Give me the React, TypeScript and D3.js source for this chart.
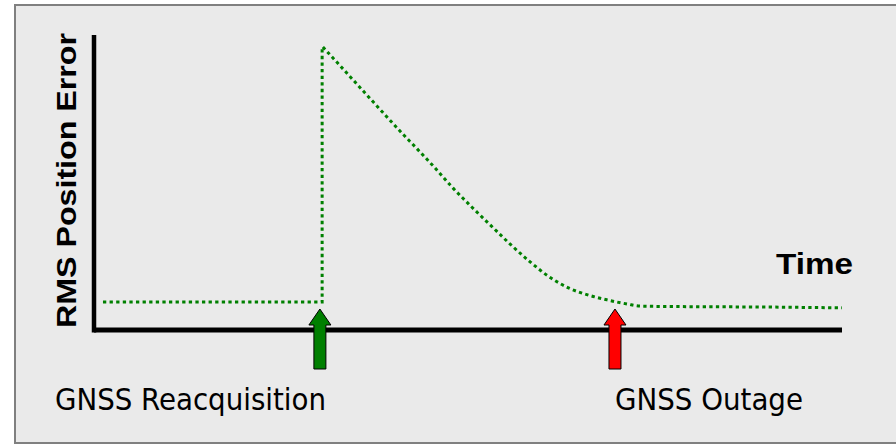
import React from "react";
import * as d3 from "d3";

// Time (arbitrary units 0..100) and RMS error (arbitrary units 0..100)
const baseTime = [1.2, 30.5, 30.5];
const baseError = [9.5, 9.5, 95.9];

const decayTime = [30.6, 31.7, 36.5, 41.3, 43.2, 45.6, 48.0, 50.5, 53.1, 55.6, 58.3, 61.1, 63.5, 66.0, 68.6, 71.3, 73.0, 80.0, 89.0, 100];
const decayError = [95.9, 92.9, 79.6, 66.4, 61.4, 54.9, 48.1, 41.7, 35.3, 29.2, 23.1, 17.6, 14.2, 11.9, 10.2, 8.8, 8.1, 7.9, 7.8, 7.5];

const eventTimes = [30.2, 69.65];
const eventColors = ["#007f00", "#ff0000"];
const eventLabels = ["GNSS Reacquisition", "GNSS Outage"];
const yAxisLabel = "RMS Position Error";
const xAxisLabel = "Time";

const W = 896;
const H = 445;

const boldFont = { fontFamily: "Liberation Sans, Arial, Helvetica, sans-serif", fontWeight: 700 } as const;
const labelFont = { fontFamily: "DejaVu Sans Condensed, DejaVu Sans, sans-serif" } as const;

export default function App() {
  const x = d3.scaleLinear().domain([0, 100]).range([94, 842]);
  const y = d3.scaleLinear().domain([0, 100]).range([330, 35]);

  const basePts: [number, number][] = baseTime.map((t, i) => [x(t), y(baseError[i])]);
  const decayPts: [number, number][] = decayTime.map((t, i) => [x(t), y(decayError[i])]);

  const linear = d3.line().curve(d3.curveLinear);
  const smooth = d3.line().curve(d3.curveMonotoneX);

  const axisY = y(0);
  const tipY = 309;
  const headBaseY = 325;
  const bottomY = 369;

  const arrowPath = (cx: number) => {
    const p = d3.path();
    p.moveTo(cx, tipY);
    p.lineTo(cx + 11, headBaseY);
    p.lineTo(cx + 6, headBaseY);
    p.lineTo(cx + 6, bottomY);
    p.lineTo(cx - 6, bottomY);
    p.lineTo(cx - 6, headBaseY);
    p.lineTo(cx - 11, headBaseY);
    p.closePath();
    return p.toString();
  };

  const labelX = [55, 615];
  const labelLen = [271, 188];

  return (
    <svg
      width={W}
      height={H}
      style={{ position: "absolute", left: 0, top: 0, display: "block", background: "#ffffff" }}
    >
      <rect x={15} y={5} width={W} height={438} fill="#eaeaea" stroke="#808080" strokeWidth={2} />

      {/* axes */}
      <line x1={x(0)} y1={y(100)} x2={x(0)} y2={axisY + 2.5} stroke="#000" strokeWidth={4.5} />
      <line x1={x(0)} y1={axisY} x2={x(100)} y2={axisY} stroke="#000" strokeWidth={5} />

      {/* error curve */}
      <path d={linear(basePts) || ""} fill="none" stroke="#008000" strokeWidth={3} strokeDasharray="3.3 3.3" />
      <path d={smooth(decayPts) || ""} fill="none" stroke="#008000" strokeWidth={3} strokeDasharray="3.3 3.3" />

      {/* event arrows */}
      {eventTimes.map((t, i) => (
        <path key={i} d={arrowPath(x(t))} fill={eventColors[i]} stroke="#000" strokeWidth={1} strokeLinejoin="miter" />
      ))}

      {/* labels */}
      {eventLabels.map((s, i) => (
        <text
          key={s}
          x={labelX[i]}
          y={410}
          style={labelFont}
          fontSize={31}
          fill="#000"
          textLength={labelLen[i]}
          lengthAdjust="spacingAndGlyphs"
        >
          {s}
        </text>
      ))}

      <text
        x={776}
        y={274}
        style={boldFont}
        fontSize={30}
        fill="#000"
        textLength={77}
        lengthAdjust="spacingAndGlyphs"
      >
        {xAxisLabel}
      </text>

      <text
        transform="translate(76,180.5) rotate(-90)"
        textAnchor="middle"
        style={boldFont}
        fontSize={27}
        fill="#000"
        textLength={295}
        lengthAdjust="spacingAndGlyphs"
      >
        {yAxisLabel}
      </text>
    </svg>
  );
}
